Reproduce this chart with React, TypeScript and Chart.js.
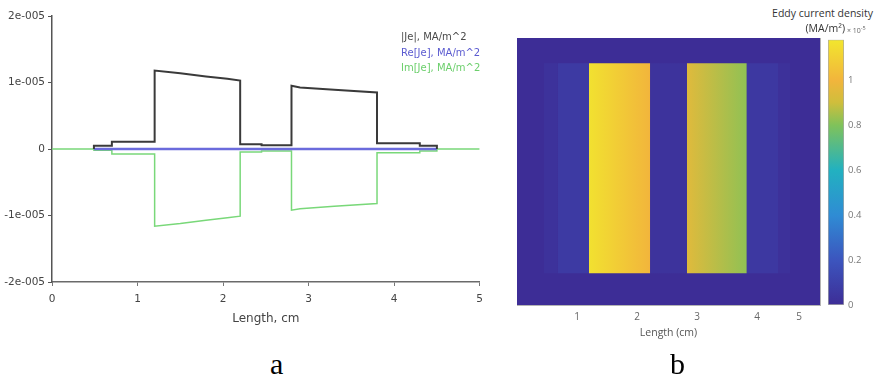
import React, { useEffect, useRef } from 'react';
import { Chart, registerables } from 'chart.js';

Chart.register(...registerables);

// ---------- panel a : line profile ----------
const lengthTicks = [0, 1, 2, 3, 4, 5];
const lengthTickLabels = ['0', '1', '2', '3', '4', '5'];
const jeTickValues = [-2e-5, -1e-5, 0, 1e-5, 2e-5];
const jeTickLabels = ['-2e-005', '-1e-005', '0', '1e-005', '2e-005'];

const absJeX = [0.49, 0.49, 0.7, 0.7, 1.2, 1.2, 1.5, 1.8, 2.05, 2.2, 2.2, 2.45, 2.45, 2.8, 2.8, 2.9, 3.3, 3.8, 3.8, 4.3, 4.3, 4.5, 4.5];
const absJeY = [0, 0.05e-5, 0.05e-5, 0.11e-5, 0.11e-5, 1.18e-5, 1.14e-5, 1.09e-5, 1.055e-5, 1.03e-5, 0.07e-5, 0.07e-5, 0.055e-5, 0.055e-5, 0.95e-5, 0.925e-5, 0.89e-5, 0.85e-5, 0.085e-5, 0.085e-5, 0.05e-5, 0.05e-5, 0];

const reJeX = [0.49, 1.2, 2.2, 2.8, 3.8, 4.5];
const reJeY = [0, 0, 0, 0, 0, 0];

const imJeX = [0, 0.49, 0.49, 0.7, 0.7, 1.2, 1.2, 1.5, 1.8, 2.05, 2.2, 2.2, 2.45, 2.45, 2.8, 2.8, 2.9, 3.3, 3.8, 3.8, 4.3, 4.3, 4.5, 4.5, 5];
const imJeY = [0, 0, -0.02e-5, -0.02e-5, -0.075e-5, -0.075e-5, -1.16e-5, -1.12e-5, -1.07e-5, -1.035e-5, -1.01e-5, -0.045e-5, -0.045e-5, -0.03e-5, -0.03e-5, -0.92e-5, -0.9e-5, -0.86e-5, -0.82e-5, -0.055e-5, -0.055e-5, -0.03e-5, -0.03e-5, 0, 0];

const seriesLabels = ['|Je|, MA/m^2', 'Re[Je], MA/m^2', 'Im[Je], MA/m^2'];
const seriesColors = ['#3a3a3a', '#6b6bdc', '#79d879'];
const seriesLegendColors = ['#4a4a4a', '#5b5bd0', '#6ccf6c'];

// ---------- panel b : eddy current map ----------
const fieldX = [0, 5.05];
const fieldY = [0, 4.45];
const bandY = [0.53, 4.03];
const bandStart = [0.45, 0.68, 1.2, 2.22, 2.83, 3.83, 4.35];
const bandEnd = [0.68, 1.2, 2.22, 2.83, 3.83, 4.35, 4.55];
const bandLeftValue = [0.025, 0.065, 1.16, 0.03, 0.95, 0.055, 0.02];
const bandRightValue = [0.025, 0.065, 1.0, 0.03, 0.82, 0.055, 0.02];
const heatTickValues = [1, 2, 3, 4, 4.7];
const heatTickLabels = ['1', '2', '3', '4', '5'];

const cbarValues = [0, 0.2, 0.4, 0.6, 0.8, 0.9, 1.0, 1.18];
const cbarColors = ['#3d2d96', '#3c55be', '#2f8cd4', '#22b1c0', '#80c25a', '#cfbe3c', '#f2b53c', '#f2e62e'];
const cbarTickValues = [0, 0.2, 0.4, 0.6, 0.8, 1];
const cbarTickLabels = ['0', '0.2', '0.4', '0.6', '0.8', '1'];
const cbarMax = 1.18;

function hexToRgb(h: string) {
  const n = parseInt(h.slice(1), 16);
  return [(n >> 16) & 255, (n >> 8) & 255, n & 255];
}
function colorAt(v: number): string {
  if (v <= cbarValues[0]) return cbarColors[0];
  for (let i = 1; i < cbarValues.length; i++) {
    if (v <= cbarValues[i]) {
      const t = (v - cbarValues[i - 1]) / (cbarValues[i] - cbarValues[i - 1]);
      const a = hexToRgb(cbarColors[i - 1]);
      const b = hexToRgb(cbarColors[i]);
      const c = a.map((x, k) => Math.round(x + (b[k] - x) * t));
      return `rgb(${c[0]},${c[1]},${c[2]})`;
    }
  }
  return cbarColors[cbarColors.length - 1];
}

const toPoints = (xs: number[], ys: number[]) => xs.map((x, i) => ({ x, y: ys[i] }));

const LEFT_FONT = 'DejaVu Sans';
const RIGHT_FONT = 'Open Sans';

export default function App() {
  const lineRef = useRef<HTMLCanvasElement>(null);
  const heatRef = useRef<HTMLCanvasElement>(null);
  const cbarRef = useRef<HTMLCanvasElement>(null);

  useEffect(() => {
    const lineChart = new Chart(lineRef.current!, {
      type: 'line',
      data: {
        datasets: [
          { label: seriesLabels[0], data: toPoints(absJeX, absJeY), borderColor: seriesColors[0], borderWidth: 2, pointRadius: 0, tension: 0, fill: false },
          { label: seriesLabels[1], data: toPoints(reJeX, reJeY), borderColor: seriesColors[1], borderWidth: 2.5, pointRadius: 0, tension: 0, fill: false },
          { label: seriesLabels[2], data: toPoints(imJeX, imJeY), borderColor: seriesColors[2], borderWidth: 1.5, pointRadius: 0, tension: 0, fill: false },
        ],
      },
      options: {
        animation: false,
        responsive: false,
        events: [],
        layout: { padding: { left: 0, top: 16, right: 9, bottom: 0 } },
        plugins: { legend: { display: false }, tooltip: { enabled: false } },
        scales: {
          x: {
            type: 'linear', min: 0, max: 5,
            afterBuildTicks: (s: any) => { s.ticks = lengthTicks.map((v) => ({ value: v })); },
            afterFit: (s: any) => { s.height = 58; },
            ticks: { callback: (_v: any, i: number) => lengthTickLabels[i], font: { family: LEFT_FONT, size: 10.5 }, color: '#444', padding: 7, maxRotation: 0, autoSkip: false },
            grid: { display: true, drawOnChartArea: false, drawTicks: true, tickLength: 4, color: '#777' },
            border: { display: true, color: '#6a6a6a', width: 1.5 },
            title: { display: true, text: 'Length, cm', font: { family: LEFT_FONT, size: 12 }, color: '#444', padding: { top: 0, bottom: 14 } },
          },
          y: {
            type: 'linear', min: -2e-5, max: 2e-5,
            afterBuildTicks: (s: any) => { s.ticks = jeTickValues.map((v) => ({ value: v })); },
            afterFit: (s: any) => { s.width = 52; },
            ticks: { callback: (_v: any, i: number) => jeTickLabels[i], font: { family: LEFT_FONT, size: 10.5 }, color: '#444', padding: 3, autoSkip: false },
            grid: { display: true, drawOnChartArea: false, drawTicks: true, tickLength: 4, color: '#555' },
            border: { display: true, color: '#555', width: 1.5 },
          },
        },
      } as any,
    });

    const bandDatasets = bandStart.map((s, i) => ({
      label: 'band' + i,
      data: [{ x: s, y: bandY[1] }, { x: bandEnd[i], y: bandY[1] }],
      borderColor: 'rgba(0,0,0,0)',
      borderWidth: 0,
      pointRadius: 0,
      tension: 0,
      fill: { value: bandY[0] },
      backgroundColor: (ctx: any) => {
        const chart = ctx.chart;
        const xs = chart.scales?.x;
        if (!chart.chartArea || !xs) return colorAt(bandLeftValue[i]);
        const g = chart.ctx.createLinearGradient(xs.getPixelForValue(s), 0, xs.getPixelForValue(bandEnd[i]), 0);
        g.addColorStop(0, colorAt(bandLeftValue[i]));
        g.addColorStop(1, colorAt(bandRightValue[i]));
        return g;
      },
    }));
    const fieldDataset = {
      label: 'field',
      data: [{ x: fieldX[0], y: fieldY[1] }, { x: fieldX[1], y: fieldY[1] }],
      borderColor: 'rgba(0,0,0,0)',
      borderWidth: 0,
      pointRadius: 0,
      tension: 0,
      fill: { value: fieldY[0] },
      backgroundColor: colorAt(0),
    };

    const frame = { display: true, color: '#b4b4b4', width: 1 };
    const heatChart = new Chart(heatRef.current!, {
      type: 'line',
      data: { datasets: [...bandDatasets, fieldDataset] },
      options: {
        animation: false,
        responsive: false,
        events: [],
        layout: { padding: { left: 17, right: 10, top: 8, bottom: 5 } },
        plugins: { legend: { display: false }, tooltip: { enabled: false } },
        scales: {
          x: {
            type: 'linear', min: fieldX[0], max: fieldX[1],
            afterBuildTicks: (s: any) => { s.ticks = heatTickValues.map((v) => ({ value: v })); },
            afterFit: (s: any) => { s.height = 40; },
            ticks: { callback: (_v: any, i: number) => heatTickLabels[i], font: { family: RIGHT_FONT, size: 10 }, color: '#666', padding: 6, maxRotation: 0, autoSkip: false },
            grid: { display: false, drawTicks: false },
            border: frame,
            title: { display: true, text: 'Length (cm)', font: { family: RIGHT_FONT, size: 10.5 }, color: '#555', padding: { top: 0, bottom: 6 } },
          },
          y: {
            type: 'linear', min: fieldY[0], max: fieldY[1],
            afterFit: (s: any) => { s.width = 0; },
            ticks: { display: false },
            grid: { display: false, drawTicks: false },
            border: frame,
          },
          xTop: {
            type: 'linear', axis: 'x', position: 'top', min: fieldX[0], max: fieldX[1],
            afterFit: (s: any) => { s.height = 0; },
            ticks: { display: false },
            grid: { display: false, drawTicks: false },
            border: frame,
          },
          yRight: {
            type: 'linear', axis: 'y', position: 'right', min: fieldY[0], max: fieldY[1],
            afterFit: (s: any) => { s.width = 0; },
            ticks: { display: false },
            grid: { display: false, drawTicks: false },
            border: frame,
          },
        },
      } as any,
    });

    const cbarChart = new Chart(cbarRef.current!, {
      type: 'bar',
      data: {
        labels: ['cbar'],
        datasets: [{
          data: [[0, cbarMax]],
          barPercentage: 1,
          categoryPercentage: 1,
          borderColor: '#a8a8a8',
          borderWidth: 1,
          borderSkipped: false,
          backgroundColor: (ctx: any) => {
            const chart = ctx.chart;
            const ys = chart.scales?.y;
            if (!chart.chartArea || !ys) return colorAt(0.5);
            const g = chart.ctx.createLinearGradient(0, ys.getPixelForValue(0), 0, ys.getPixelForValue(cbarMax));
            cbarValues.forEach((v, i) => g.addColorStop(v / cbarMax, cbarColors[i]));
            return g;
          },
        }],
      },
      options: {
        animation: false,
        responsive: false,
        events: [],
        layout: { padding: { left: 8, right: 0, top: 8, bottom: 15 } },
        plugins: { legend: { display: false }, tooltip: { enabled: false } },
        scales: {
          x: { display: false },
          y: {
            position: 'right', min: 0, max: cbarMax,
            afterBuildTicks: (s: any) => { s.ticks = cbarTickValues.map((v) => ({ value: v })); },
            afterFit: (s: any) => { s.width = 36; },
            ticks: { callback: (_v: any, i: number) => cbarTickLabels[i], font: { family: RIGHT_FONT, size: 9.5 }, color: '#777', padding: 4, autoSkip: false },
            grid: { display: false, drawTicks: false },
            border: { display: false },
          },
        },
      } as any,
    });

    return () => {
      lineChart.destroy();
      heatChart.destroy();
      cbarChart.destroy();
    };
  }, []);

  const abs: React.CSSProperties = { position: 'absolute' };
  return (
    <div style={{ position: 'absolute', left: 0, top: 0, width: 880, height: 381, background: '#fff', overflow: 'hidden' }}>
      <canvas ref={lineRef} width={490} height={340} style={{ ...abs, left: 0, top: 0 }} />
      <canvas ref={heatRef} width={330} height={320} style={{ ...abs, left: 500, top: 30 }} />
      <canvas ref={cbarRef} width={60} height={290} style={{ ...abs, left: 820, top: 30 }} />

      <div style={{ ...abs, left: 401, top: 29, fontFamily: LEFT_FONT, fontSize: 10, lineHeight: '15.5px', whiteSpace: 'nowrap' }}>
        {seriesLabels.map((t, i) => (
          <div key={t} style={{ color: seriesLegendColors[i] }}>{t}</div>
        ))}
      </div>

      <div style={{ ...abs, right: 7, top: 6, fontFamily: RIGHT_FONT, fontSize: 10.5, lineHeight: '14px', color: '#333', whiteSpace: 'nowrap' }}>
        Eddy current density
      </div>
      <div style={{ ...abs, right: 35, top: 21, fontFamily: RIGHT_FONT, fontSize: 10.5, lineHeight: '14px', color: '#333', whiteSpace: 'nowrap' }}>
        (MA/m²)
      </div>
      <div style={{ ...abs, left: 847, top: 23, fontFamily: RIGHT_FONT, fontSize: 7, lineHeight: '10px', color: '#666', whiteSpace: 'nowrap' }}>
        × 10<sup style={{ fontSize: 5.5 }}>-5</sup>
      </div>

      <div style={{ ...abs, left: 270, top: 349, fontFamily: 'Liberation Serif', fontSize: 30, lineHeight: '30px', color: '#000' }}>a</div>
      <div style={{ ...abs, left: 670, top: 349, fontFamily: 'Liberation Serif', fontSize: 30, lineHeight: '30px', color: '#000' }}>b</div>
    </div>
  );
}
